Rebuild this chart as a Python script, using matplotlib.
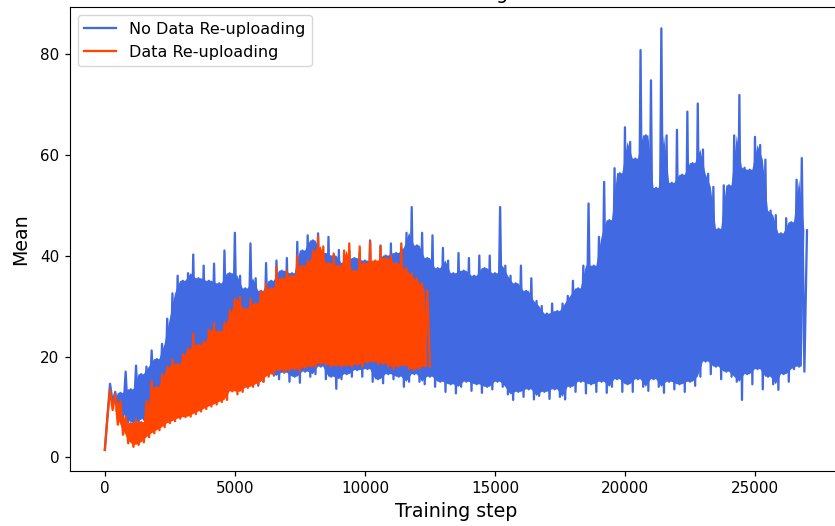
import numpy as np
import matplotlib
matplotlib.use("Agg")
import matplotlib.pyplot as plt

# ---- data (upper / lower envelope of each noisy run) ----
# upper values at steps 0, 200, 400, ... ; lower values at steps 100, 300, 500, ...
blue_upper = [
    1.5, 14.6, 13.0, 12.8, 17.0, 13.5, 18.2, 16.5, 18.0, 21.2,
    19.5, 22.5, 27.5, 32.5, 36.0, 35.0, 36.5, 40.2, 35.5, 38.0,
    35.0, 38.4, 34.5, 41.0, 36.5, 44.5, 36.0, 33.5, 42.4, 35.5,
    33.0, 38.5, 35.0, 39.0, 37.0, 39.5, 36.5, 42.7, 41.0, 44.0,
    43.0, 44.4, 40.5, 43.7, 40.0, 41.1, 38.5, 41.0, 39.5, 40.5,
    39.0, 43.0, 38.5, 42.0, 40.0, 42.4, 40.5, 41.5, 44.5, 49.6,
    42.0, 44.5, 39.5, 44.0, 37.5, 41.5, 39.0, 36.5, 40.5, 37.0,
    39.5, 36.0, 40.0, 37.5, 40.0, 36.5, 49.6, 38.0, 36.0, 34.5,
    38.0, 33.0, 35.5, 31.0, 30.0, 28.5, 30.5, 29.0, 30.5, 32.0,
    35.0, 33.5, 38.0, 50.3, 38.0, 43.7, 54.6, 47.0, 57.3, 56.3,
    65.4, 62.5, 59.2, 80.7, 63.8, 74.7, 53.4, 85.0, 63.8, 54.4,
    64.9, 56.0, 68.5, 58.3, 70.1, 61.0, 56.2, 53.6, 45.3, 53.9,
    53.9, 63.8, 71.8, 57.4, 57.0, 63.5, 61.9, 59.0, 48.9, 48.0,
    44.4, 47.4, 46.6, 55.0, 59.3, 45.0,
]
blue_lower = [
    8.0, 11.0, 9.5, 8.0, 7.0, 6.8, 7.0, 7.5, 8.0, 8.5,
    9.0, 9.5, 10.0, 10.5, 11.0, 11.5, 12.0, 12.5, 13.0, 13.0,
    13.5, 14.0, 14.0, 14.5, 15.0, 15.0, 15.5, 15.0, 14.8, 14.2,
    15.0, 16.5, 16.2, 15.5, 16.8, 15.0, 16.0, 14.8, 17.0, 16.0,
    16.5, 18.0, 15.5, 16.0, 13.6, 15.5, 16.5, 16.0, 17.3, 16.0,
    17.5, 15.0, 15.5, 14.7, 16.5, 15.5, 16.0, 14.0, 15.0, 16.5,
    15.0, 14.5, 16.0, 14.0, 15.0, 13.0, 14.5, 12.7, 14.0, 15.0,
    13.2, 14.5, 12.8, 14.0, 13.5, 15.0, 14.0, 12.5, 11.4, 13.0,
    12.0, 13.5, 11.5, 12.2, 13.0, 11.6, 13.5, 12.0, 11.5, 14.0,
    13.0, 15.0, 12.7, 14.5, 13.0, 15.0, 12.8, 14.0, 15.5, 13.0,
    14.5, 13.0, 15.5, 14.0, 13.2, 15.5, 14.0, 12.8, 15.0, 13.5,
    14.5, 13.0, 15.0, 14.2, 16.0, 19.0, 16.5, 18.0, 15.5, 17.0,
    16.0, 15.0, 11.4, 16.5, 14.5, 17.5, 13.5, 16.0, 14.5, 13.4,
    16.5, 15.0, 17.5, 18.0, 17.0,
]
orange_upper = [
    1.5, 13.4, 12.5, 11.2, 8.1, 6.8, 7.5, 7.0, 11.2, 15.2,
    14.0, 16.5, 18.0, 19.4, 18.5, 20.5, 21.6, 24.6, 22.3, 23.0,
    25.3, 26.6, 25.0, 26.8, 29.2, 31.5, 31.8, 29.5, 31.5, 30.5,
    33.0, 34.5, 33.5, 37.7, 35.5, 37.0, 36.0, 40.0, 38.0, 39.0,
    41.0, 43.7, 41.8, 38.5, 40.4, 38.0, 41.0, 42.4, 37.0, 41.8,
    38.5, 42.7, 39.0, 41.8, 39.5, 40.0, 38.5, 42.4, 37.5, 36.5,
    35.5, 34.5, 33.1,
]
orange_lower = [
    8.0, 9.4, 6.5, 4.5, 2.8, 2.1, 2.5, 3.0, 4.0, 4.8,
    5.4, 6.0, 6.8, 7.2, 7.7, 8.0, 8.1, 8.6, 9.1, 9.6,
    10.1, 10.5, 11.0, 11.4, 13.1, 12.5, 13.0, 13.8, 14.0, 14.5,
    15.0, 16.0, 16.5, 17.3, 16.8, 17.3, 17.5, 17.0, 17.8, 18.0,
    18.0, 18.6, 18.4, 18.0, 18.2, 18.0, 18.2, 18.0, 18.4, 18.0,
    18.8, 19.0, 18.5, 18.6, 18.0, 17.5, 18.0, 18.2, 17.5, 17.3,
    17.6, 18.0, 18.0,
]
sample_step = 200
labels = ["No Data Re-uploading", "Data Re-uploading"]
colors = ["royalblue", "orangered"]


def interleave(upper, lower):
    n_up, n_lo = len(upper), len(lower)
    steps = np.zeros(n_up + n_lo)
    vals = np.zeros(n_up + n_lo)
    steps[0::2] = np.arange(n_up) * sample_step
    vals[0::2] = upper
    steps[1::2] = np.arange(n_lo) * sample_step + sample_step / 2
    vals[1::2] = lower
    return steps, vals


def body(ax, upper, lower, color, zorder):
    """Solid core of the band: between two neighbouring peaks it is filled up
    to the lower of them, between two troughs down to the higher of them."""
    up = np.asarray(upper, float)
    lo = np.asarray(lower, float)
    top = np.minimum(up[:-1], up[1:])
    top_x = np.arange(len(top)) * sample_step + sample_step / 2
    bot = np.maximum(lo[:-1], lo[1:])
    bot_x = (np.arange(len(bot)) + 1) * sample_step
    # skip the initial ramp
    top, top_x = top[2:], top_x[2:]
    bot, bot_x = bot[1:], bot_x[1:]
    xs = np.concatenate([top_x, bot_x[::-1]])
    ys = np.concatenate([top, bot[::-1]])
    ax.fill(xs, ys, color=color, lw=0, zorder=zorder)


fig = plt.figure(figsize=(8.35, 5.26), dpi=100)
ax = fig.add_axes([0.0835, 0.1046, 0.925, 0.8816])

bx, by = interleave(blue_upper, blue_lower)
ox, oy = interleave(orange_upper, orange_lower)
ax.plot(bx, by, color=colors[0], lw=1.64, label=labels[0], zorder=2)
body(ax, blue_upper, blue_lower, colors[0], 2)
ax.plot(ox, oy, color=colors[1], lw=1.64, label=labels[1], zorder=3)
body(ax, orange_upper, orange_lower, colors[1], 3)

ax.set_title("RL Training", fontsize=13.7)
ax.set_xlabel("Training step", fontsize=13.7)
ax.set_ylabel("Mean", fontsize=13.7, labelpad=7)
ax.tick_params(labelsize=10.9, length=3.8, width=0.9)
leg = ax.legend(loc="upper left", fontsize=11.5)
for line in leg.get_lines():
    line.set_linewidth(1.64)

fig.savefig("out.png", dpi=100)
